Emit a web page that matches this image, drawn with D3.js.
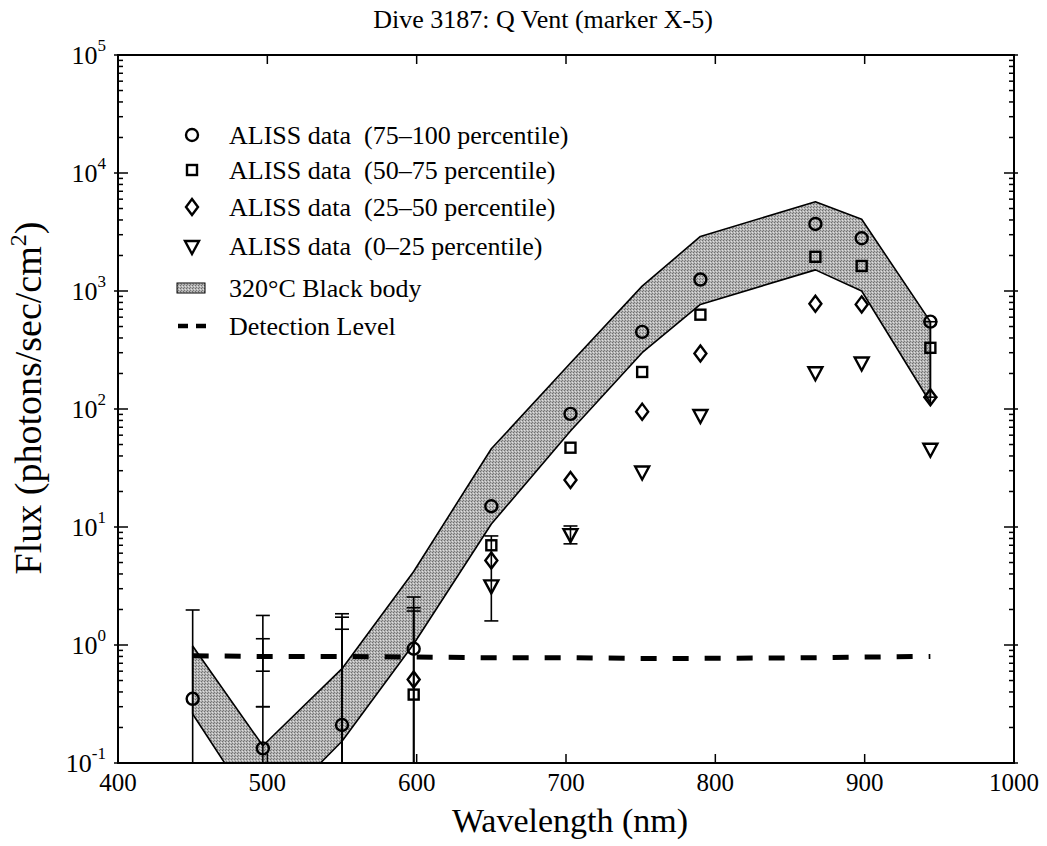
<!DOCTYPE html>
<html>
<head>
<meta charset="utf-8">
<script src="https://cdn.jsdelivr.net/npm/d3@7/dist/d3.min.js"></script>
<style>
  body { margin: 0; background: #fff; }
  text { font-family: "Liberation Serif", "Times New Roman", serif; fill: #000; }
</style>
</head>
<body>
<div id="chart"></div>
<script>
// wavelengths (nm) of the filter channels
var wavelengths = [450, 497, 550, 598, 650, 703, 751, 790, 867, 898, 944];

// ALISS percentiles (null = off the chart)
var p75to100 = [0.35, 0.133, 0.21, 0.93, 15, 91, 450, 1250, 3700, 2800, 550];
var p50to75  = [null, null, null, 0.38, 7.0, 47, 206, 630, 1950, 1630, 330];
var p25to50  = [null, null, null, 0.51, 5.2, 25, 95, 295, 780, 770, 126];
var p0to25   = [null, null, null, null, 3.2, 8.7, 29.5, 89, 205, 248, 46];

// 320C black body band
var bandUpper = [0.98, 0.14, 0.63, 4.2, 46, 245, 1100, 2900, 5700, 4050, 550];
var bandLower = [0.26, 0.032, 0.153, 1.02, 10.6, 65, 300, 770, 1510, 1000, 113];

// detection level
var detection = [0.81, 0.80, 0.80, 0.79, 0.78, 0.78, 0.77, 0.77, 0.78, 0.79, 0.80];

// error bars
var errWl = [450, 497, 497, 497, 550, 550, 550, 598, 598, 598, 650, 703, 944];
var errLo = [0.01, 0.6, 0.3, 0.01, 0.01, 0.01, 0.01, 0.01, 0.01, 0.01, 1.6, 7.2, 126];
var errHi = [1.98, 1.78, 1.13, 0.3, 1.84, 1.72, 1.36, 2.55, 2.07, 1.94, 8.4, 10.2, 549];

var xTicks = [400, 500, 600, 700, 800, 900, 1000];
var yExps = [-1, 0, 1, 2, 3, 4, 5];

var legendLabels = [
  "ALISS data  (75\u2013100 percentile)",
  "ALISS data  (50\u201375 percentile)",
  "ALISS data  (25\u201350 percentile)",
  "ALISS data  (0\u201325 percentile)",
  "320\u00b0C Black body",
  "Detection Level"
];

(function() {
  var width = 1047, height = 846;
  var pLeft = 118, pRight = 1014, pTop = 55, pBottom = 763;

  var svg = d3.select("#chart").append("svg")
    .attr("width", width)
    .attr("height", height)
    .attr("font-family", "'Liberation Serif', 'Times New Roman', serif");

  var x = d3.scaleLinear().domain([400, 1000]).range([pLeft, pRight]);
  var y = d3.scaleLog().domain([0.1, 1e5]).range([pBottom, pTop]);

  // stipple pattern for the band
  var defs = svg.append("defs");
  var pat = defs.append("pattern")
    .attr("id", "stipple")
    .attr("width", 3).attr("height", 3)
    .attr("patternUnits", "userSpaceOnUse");
  pat.append("rect").attr("width", 3).attr("height", 3).attr("fill", "#b4b4b4");
  pat.append("rect").attr("x", 0).attr("y", 0).attr("width", 1).attr("height", 1).attr("fill", "#6e6e6e");
  pat.append("rect").attr("x", 2).attr("y", 1).attr("width", 1).attr("height", 1).attr("fill", "#e0e0e0");
  pat.append("rect").attr("x", 1).attr("y", 2).attr("width", 1).attr("height", 1).attr("fill", "#7a7a7a");

  defs.append("clipPath").attr("id", "clip")
    .append("rect")
    .attr("x", pLeft).attr("y", pTop)
    .attr("width", pRight - pLeft).attr("height", pBottom - pTop);

  var plot = svg.append("g").attr("clip-path", "url(#clip)");

  // black body band
  var bandData = wavelengths.map(function(w, i) {
    return { w: w, hi: bandUpper[i], lo: bandLower[i] };
  });
  var area = d3.area()
    .x(function(d) { return x(d.w) })
    .y0(function(d) { return y(d.lo) })
    .y1(function(d) { return y(d.hi) });

  plot.append("path")
    .datum(bandData)
    .attr("d", area)
    .attr("fill", "url(#stipple)")
    .attr("stroke", "#000")
    .attr("stroke-width", 1.6)
    .attr("stroke-linejoin", "round");

  // detection level
  var line = d3.line()
    .x(function(d, i) { return x(wavelengths[i]) })
    .y(function(d) { return y(d) });

  plot.append("path")
    .datum(detection)
    .attr("d", line)
    .attr("fill", "none")
    .attr("stroke", "#000")
    .attr("stroke-width", 5)
    .attr("stroke-dasharray", "16,16");

  // error bars
  var capW = 7;
  errWl.forEach(function(w, i) {
    var g = plot.append("g").attr("stroke", "#000").attr("stroke-width", 1.6);
    g.append("line")
      .attr("x1", x(w)).attr("x2", x(w))
      .attr("y1", y(errLo[i])).attr("y2", y(errHi[i]));
    [errLo[i], errHi[i]].forEach(function(v) {
      g.append("line")
        .attr("x1", x(w) - capW).attr("x2", x(w) + capW)
        .attr("y1", y(v)).attr("y2", y(v));
    });
  });

  // markers
  var symbols = ["circle", "square", "diamond", "triangle"];
  var series = [p75to100, p50to75, p25to50, p0to25];

  function drawMarker(g, type, cx, cy) {
    if (type == "circle") {
      g.append("circle").attr("cx", cx).attr("cy", cy).attr("r", 6);
    } else if (type == "square") {
      g.append("rect").attr("x", cx - 5).attr("y", cy - 5).attr("width", 10).attr("height", 10);
    } else if (type == "diamond") {
      g.append("path").attr("d", "M" + cx + "," + (cy - 8) + "L" + (cx + 6) + "," + cy +
        "L" + cx + "," + (cy + 8) + "L" + (cx - 6) + "," + cy + "Z");
    } else {
      g.append("path").attr("d", "M" + (cx - 7) + "," + (cy - 5) + "L" + (cx + 7) + "," + (cy - 5) +
        "L" + cx + "," + (cy + 8) + "Z");
    }
  }

  series.forEach(function(vals, s) {
    var g = plot.append("g")
      .attr("fill", "none")
      .attr("stroke", "#000")
      .attr("stroke-width", 2.4);
    vals.forEach(function(v, i) {
      if (v == null) return;
      drawMarker(g, symbols[s], x(wavelengths[i]), y(v));
    });
  });

  // axes frame
  svg.append("rect")
    .attr("x", pLeft).attr("y", pTop)
    .attr("width", pRight - pLeft).attr("height", pBottom - pTop)
    .attr("fill", "none")
    .attr("stroke", "#000")
    .attr("stroke-width", 2);

  // x ticks (inward, top and bottom)
  var tickG = svg.append("g").attr("stroke", "#000").attr("stroke-width", 1.5);
  xTicks.forEach(function(t) {
    tickG.append("line").attr("x1", x(t)).attr("x2", x(t)).attr("y1", pBottom).attr("y2", pBottom - 9);
    tickG.append("line").attr("x1", x(t)).attr("x2", x(t)).attr("y1", pTop).attr("y2", pTop + 9);
  });
  svg.selectAll(".xlab")
    .data(xTicks)
    .enter().append("text")
    .attr("class", "xlab")
    .attr("x", function(d) { return x(d) })
    .attr("y", 791)
    .attr("text-anchor", "middle")
    .attr("font-size", 25)
    .text(function(d) { return d });

  // y ticks (major and minor, both sides)
  yExps.forEach(function(e) {
    var base = Math.pow(10, e);
    var yy = y(base);
    tickG.append("line").attr("x1", pLeft - 4).attr("x2", pLeft + 10).attr("y1", yy).attr("y2", yy);
    tickG.append("line").attr("x1", pRight - 10).attr("x2", pRight + 4).attr("y1", yy).attr("y2", yy);
    if (e == 5) return;
    for (var k = 2; k <= 9; k++) {
      var ym = y(base * k);
      tickG.append("line").attr("x1", pLeft).attr("x2", pLeft + 5).attr("y1", ym).attr("y2", ym);
      tickG.append("line").attr("x1", pRight - 5).attr("x2", pRight).attr("y1", ym).attr("y2", ym);
    }
  });

  var ylab = svg.selectAll(".ylab")
    .data(yExps)
    .enter().append("text")
    .attr("class", "ylab")
    .attr("x", 106)
    .attr("y", function(d) { return y(Math.pow(10, d)) + 9 })
    .attr("text-anchor", "end")
    .attr("font-size", 26);
  ylab.append("tspan").text("10");
  ylab.append("tspan")
    .attr("dy", -13)
    .attr("font-size", 17)
    .text(function(d) { return d });

  // titles
  svg.append("text")
    .attr("x", 543).attr("y", 28)
    .attr("text-anchor", "middle")
    .attr("font-size", 26)
    .text("Dive 3187: Q Vent (marker X-5)");

  svg.append("text")
    .attr("x", 570).attr("y", 832)
    .attr("text-anchor", "middle")
    .attr("font-size", 34)
    .text("Wavelength (nm)");

  var yt = svg.append("text")
    .attr("transform", "translate(41,398) rotate(-90)")
    .attr("text-anchor", "middle")
    .attr("font-size", 38);
  yt.append("tspan").text("Flux (photons/sec/cm");
  yt.append("tspan").attr("dy", -15).attr("font-size", 24).text("2");
  yt.append("tspan").attr("dy", 15).text(")");

  // legend
  var legY = [135, 170, 207, 246, 288, 326];
  var leg = svg.append("g");
  legendLabels.forEach(function(label, i) {
    var g = leg.append("g").attr("fill", "none").attr("stroke", "#000").attr("stroke-width", 2.4);
    if (i < 4) {
      drawMarker(g, symbols[i], 192, legY[i]);
    } else if (i == 4) {
      g.append("rect")
        .attr("x", 177).attr("y", legY[i] - 5)
        .attr("width", 28).attr("height", 10)
        .attr("fill", "url(#stipple)")
        .attr("stroke-width", 1);
    } else {
      g.append("line")
        .attr("x1", 178).attr("x2", 206)
        .attr("y1", legY[i]).attr("y2", legY[i])
        .attr("stroke-width", 4.5)
        .attr("stroke-dasharray", "10,8");
    }
    leg.append("text")
      .attr("x", 229)
      .attr("y", legY[i] + 9)
      .attr("font-size", 26)
      .style("white-space", "pre")
      .text(label);
  });
})();
</script>
</body>
</html>
